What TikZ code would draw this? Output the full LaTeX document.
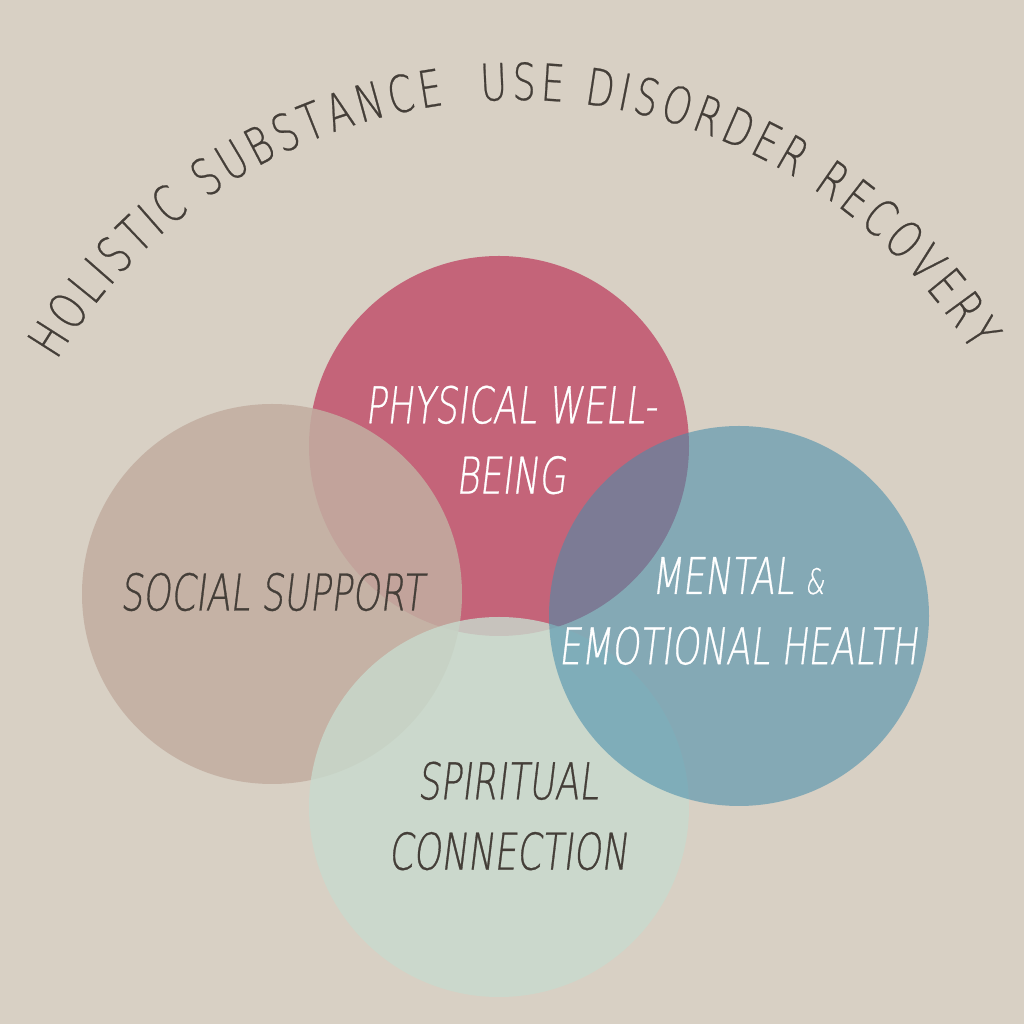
\documentclass[tikz,border=0pt]{standalone}
\usepackage{fontspec}
\usetikzlibrary{decorations.text}
\newfontfamily\handf[FakeStretch=0.70,FakeSlant=0.12,FakeBold=0.6]{DejaVu Sans ExtraLight}
\newfontfamily\titlef[FakeStretch=0.72,FakeBold=0.5]{DejaVu Sans ExtraLight}
\definecolor{bgcol}{HTML}{D8D0C4}
\definecolor{physcol}{HTML}{C46479}
\definecolor{socialcol}{HTML}{C2AEA1}
\definecolor{mentalcol}{HTML}{468DAB}
\definecolor{spiritcol}{HTML}{C8DBCE}
\definecolor{darktext}{HTML}{443E38}
\tikzset{
  bubble/.style={circle, inner sep=0pt, minimum size=38mm},
  lbl/.style={align=center, font=\handf\fontsize{14.4}{20}\selectfont},
}
\begin{document}
\begin{tikzpicture}[x=0.1mm, y=0.1mm]
\fill[bgcol] (0,0) rectangle (1024,1024);
\useasboundingbox (0,0) rectangle (1024,1024);
% circles
\node[bubble, fill=physcol] (phys) at (499,578) {};
\node[bubble, fill=socialcol, fill opacity=0.86] (social) at (272,430) {};
\node[bubble, fill=spiritcol, fill opacity=0.8] (spirit) at (499,217) {};
\node[bubble, fill=mentalcol, fill opacity=0.57] (mental) at (739,408) {};
% labels
\node[lbl, text=white] (physl) at (511,584) {PHYSICAL WELL-\\BEING};
\node[lbl, text=darktext] (sociall) at (272,432) {SOCIAL SUPPORT};
\node[lbl, text=white] (mentall) at (738,413) {MENTAL {\fontsize{10}{12}\selectfont\&}\\EMOTIONAL HEALTH};
\node[lbl, text=darktext] (spiritl) at (508,208) {SPIRITUAL\\CONNECTION};
% title
\path[decorate, decoration={text along path,
  text={|\titlef\fontsize{14.5}{17}\selectfont\color{darktext}|HOLISTIC SUBSTANCE {\ }USE DISORDER RECOVERY},
  text align=fit to path}]
  (517,387) ++(149:537) arc[start angle=149, end angle=32, radius=537];
\end{tikzpicture}
\end{document}
